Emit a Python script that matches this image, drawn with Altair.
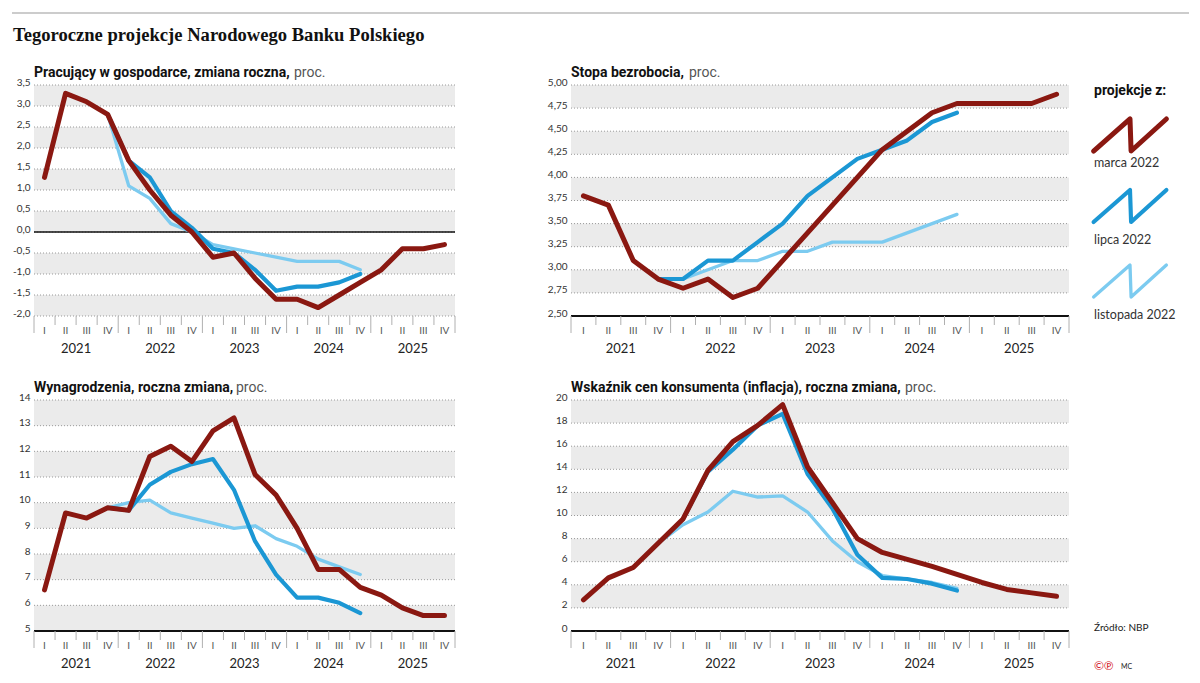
import altair as alt
import pandas as pd

N = None
QUARTER_LABELS = ["I", "II", "III", "IV"]
YEARS = ["2021", "2022", "2023", "2024", "2025"]
SERIES = ["marca 2022", "lipca 2022", "listopada 2022"]
COLORS = ["#8a1811", "#1b97d4", "#7ccbf0"]
LINE_WIDTHS = [5, 3.3, 3.3]

MAIN_TITLE = "Tegoroczne projekcje Narodowego Banku Polskiego"
LEGEND_TITLE = "projekcje z:"
SOURCE = "Źródło: NBP"

# Pracujący w gospodarce
PRAC_MAR = [1.3, 3.3, 3.1, 2.8, 1.7, 1.0, 0.4, 0.0, -0.6, -0.5, -1.1, -1.6, -1.6, -1.8, -1.5, -1.2, -0.9, -0.4, -0.4, -0.3]
PRAC_LIP = [N, N, N, 2.8, 1.7, 1.3, 0.5, 0.1, -0.4, -0.5, -0.9, -1.4, -1.3, -1.3, -1.2, -1.0, N, N, N, N]
PRAC_LIS = [N, N, N, 2.8, 1.1, 0.8, 0.2, 0.0, -0.3, -0.4, -0.5, -0.6, -0.7, -0.7, -0.7, -0.9, N, N, N, N]
PRAC_TICKS = [-2.0, -1.5, -1.0, -0.5, 0.0, 0.5, 1.0, 1.5, 2.0, 2.5, 3.0, 3.5]

# Stopa bezrobocia
BEZR_MAR = [3.8, 3.7, 3.1, 2.9, 2.8, 2.9, 2.7, 2.8, 3.1, 3.4, 3.7, 4.0, 4.3, 4.5, 4.7, 4.8, 4.8, 4.8, 4.8, 4.9]
BEZR_LIP = [N, N, N, 2.9, 2.9, 3.1, 3.1, 3.3, 3.5, 3.8, 4.0, 4.2, 4.3, 4.4, 4.6, 4.7, N, N, N, N]
BEZR_LIS = [N, N, N, 2.9, 2.9, 3.0, 3.1, 3.1, 3.2, 3.2, 3.3, 3.3, 3.3, 3.4, 3.5, 3.6, N, N, N, N]
BEZR_TICKS = [2.5, 2.75, 3.0, 3.25, 3.5, 3.75, 4.0, 4.25, 4.5, 4.75, 5.0]

# Wynagrodzenia
WYN_MAR = [6.6, 9.6, 9.4, 9.8, 9.7, 11.8, 12.2, 11.6, 12.8, 13.3, 11.1, 10.3, 9.0, 7.4, 7.4, 6.7, 6.4, 5.9, 5.6, 5.6]
WYN_LIP = [N, N, N, 9.8, 9.7, 10.7, 11.2, 11.5, 11.7, 10.5, 8.5, 7.2, 6.3, 6.3, 6.1, 5.7, N, N, N, N]
WYN_LIS = [N, N, N, 9.8, 10.0, 10.1, 9.6, 9.4, 9.2, 9.0, 9.1, 8.6, 8.3, 7.8, 7.5, 7.2, N, N, N, N]
WYN_TICKS = [5, 6, 7, 8, 9, 10, 11, 12, 13, 14]

# Inflacja CPI
CPI_MAR = [2.7, 4.6, 5.5, 7.6, 9.7, 13.9, 16.4, 17.8, 19.6, 14.2, 11.1, 8.0, 6.8, 6.2, 5.6, 4.9, 4.2, 3.6, 3.3, 3.0]
CPI_LIP = [N, N, N, N, 9.7, 13.8, 15.7, 17.8, 18.8, 13.6, 10.6, 6.6, 4.6, 4.5, 4.1, 3.5, N, N, N, N]
CPI_LIS = [N, N, N, 7.6, 9.2, 10.3, 12.1, 11.6, 11.7, 10.3, 7.8, 6.0, 4.8, 4.5, 4.2, 3.7, N, N, N, N]
CPI_TICKS = [0, 2, 4, 6, 8, 10, 12, 14, 16, 18, 20]

FONT = "Lato"
TITLE_FONT = "Roboto"
W_L, W_R, H = 421, 498, 231
ICON_PATH = "M-1,0.44 L0,-0.44 L0.03,0.44 L1,-0.44"

color_scale = alt.Scale(domain=SERIES, range=COLORS)
width_scale = alt.Scale(domain=SERIES, range=LINE_WIDTHS)


def text_layer(txt, x, y, size, weight="normal", color="#222", font=FONT, align="left", baseline="alphabetic"):
    return alt.Chart(pd.DataFrame({"t": [txt]})).mark_text(
        align=align, baseline=baseline, font=font, fontSize=size, fontWeight=weight, color=color
    ).encode(text="t:N", x=alt.value(x), y=alt.value(y))


def panel(title_bold, proc_x, series_vals, ticks, dec, width, base_at, base_w):
    ymin, ymax = ticks[0], ticks[-1]
    yscale = alt.Scale(domain=[ymin, ymax], nice=False, zero=False)
    xscale = alt.Scale(domain=[0, 20], nice=False, zero=False)
    label_expr = f"replace(replace(format(datum.value, '.{dec}f'), '.', ','), '\u2212', '-')"
    yaxis = alt.Axis(values=ticks, labelExpr=label_expr, grid=False, domain=False, ticks=False,
                     labelFontSize=10, labelColor="#333", labelPadding=4, labelBaseline="alphabetic",
                     labelFont=FONT, title=None)
    rev = ticks[::-1]
    bands = pd.DataFrame([{"y0": rev[i], "y1": rev[i + 1]} for i in range(0, len(rev) - 1, 2)])

    layers = []
    layers.append(alt.Chart(bands).mark_rect(color="#ebebeb").encode(
        y=alt.Y("y0:Q", scale=yscale, axis=yaxis), y2="y1:Q",
        x=alt.value(0), x2=alt.value(width)))
    layers.append(alt.Chart(pd.DataFrame({"y0": ticks})).mark_rule(
        color="#999999", strokeDash=[1, 2], strokeWidth=1).encode(
        y=alt.Y("y0:Q", scale=yscale, axis=yaxis), x=alt.value(0), x2=alt.value(width)))
    layers.append(alt.Chart(pd.DataFrame({"y0": [base_at]})).mark_rule(
        color="#111111", strokeWidth=base_w).encode(
        y=alt.Y("y0:Q", scale=yscale, axis=yaxis), x=alt.value(0), x2=alt.value(width)))

    edges = pd.DataFrame({"b": list(range(21))})
    edges["year"] = edges["b"] % 4 == 0
    layers.append(alt.Chart(edges).transform_filter("!datum.year").mark_rule(color="#b0b0b0").encode(
        x=alt.X("b:Q", scale=xscale, axis=None), y=alt.value(H), y2=alt.value(H + 9)))
    layers.append(alt.Chart(edges).transform_filter("datum.year").mark_rule(color="#b0b0b0").encode(
        x=alt.X("b:Q", scale=xscale, axis=None), y=alt.value(H), y2=alt.value(H + 17)))

    qdf = pd.DataFrame({"x": [i + 0.5 for i in range(20)], "q": [QUARTER_LABELS[i % 4] for i in range(20)]})
    layers.append(alt.Chart(qdf).mark_text(font=FONT, fontSize=10, color="#555", baseline="middle").encode(
        x=alt.X("x:Q", scale=xscale, axis=None), y=alt.value(H + 15), text="q:N"))
    ydf = pd.DataFrame({"x": [4 * k + 2 for k in range(5)], "yr": YEARS})
    layers.append(alt.Chart(ydf).mark_text(font=FONT, fontSize=13, color="#222", baseline="middle").encode(
        x=alt.X("x:Q", scale=xscale, axis=None), y=alt.value(H + 33), text="yr:N"))

    for idx in [2, 1, 0]:
        vals = series_vals[idx]
        rows = [{"x": i + 0.5, "y0": v, "s": SERIES[idx]} for i, v in enumerate(vals) if v is not None]
        layers.append(alt.Chart(pd.DataFrame(rows)).mark_line(strokeCap="round", strokeJoin="round").encode(
            x=alt.X("x:Q", scale=xscale, axis=None),
            y=alt.Y("y0:Q", scale=yscale, axis=yaxis),
            color=alt.Color("s:N", scale=color_scale, legend=None),
            strokeWidth=alt.StrokeWidth("s:N", scale=width_scale, legend=None)))

    layers.append(text_layer(title_bold, 0, -8, 14, "bold", "#111", font=TITLE_FONT))
    layers.append(text_layer("proc.", proc_x, -8, 14, "normal", "#555", font=TITLE_FONT))
    return layers


p1_layers = panel("Pracujący w gospodarce, zmiana roczna,", 260, [PRAC_MAR, PRAC_LIP, PRAC_LIS],
                  PRAC_TICKS, 1, W_L, 0.0, 1.6)
# main title and top rule (attached to first panel)
p1_layers.append(alt.Chart(pd.DataFrame({"t": [1]})).mark_rule(color="#cccccc", strokeWidth=2).encode(
    x=alt.value(-22), x2=alt.value(1155), y=alt.value(-72)))
p1_layers.append(text_layer(MAIN_TITLE, -21, -44, 18.6, "bold", "#111", font="Liberation Serif"))
p1 = alt.layer(*p1_layers).properties(width=W_L, height=H)

p2_layers = panel("Stopa bezrobocia,", 118, [BEZR_MAR, BEZR_LIP, BEZR_LIS],
                  BEZR_TICKS, 2, W_R, 2.5, 2)
# legend
p2_layers.append(text_layer(LEGEND_TITLE, 523, 10, 14, "bold", "#111", font=TITLE_FONT))
LEG_ICON_Y = [50, 121, 196]
LEG_TEXT_Y = [82, 159, 234]
for i, name in enumerate(SERIES):
    p2_layers.append(alt.Chart(pd.DataFrame({"s": [name]})).mark_point(
        shape=ICON_PATH, filled=False, size=5300, opacity=1, strokeCap="round", strokeJoin="round").encode(
        x=alt.value(559), y=alt.value(LEG_ICON_Y[i]),
        color=alt.Color("s:N", scale=color_scale, legend=None),
        strokeWidth=alt.StrokeWidth("s:N", scale=width_scale, legend=None)))
    p2_layers.append(text_layer(name, 523, LEG_TEXT_Y[i], 12.5, "normal", "#333"))
p2 = alt.layer(*p2_layers).properties(width=W_R, height=H)

p3_layers = panel("Wynagrodzenia, roczna zmiana,", 202, [WYN_MAR, WYN_LIP, WYN_LIS],
                  WYN_TICKS, 0, W_L, 5, 2)
p3 = alt.layer(*p3_layers).properties(width=W_L, height=H)

p4_layers = panel("Wskaźnik cen konsumenta (inflacja), roczna zmiana,", 334, [CPI_MAR, CPI_LIP, CPI_LIS],
                  CPI_TICKS, 0, W_R, 0, 2)
p4_layers.append(text_layer(SOURCE, 523, 231, 10, "normal", "#222"))
p4_layers.append(text_layer("©℗", 523, 270, 12, "normal", "#d4202a"))
p4_layers.append(text_layer("MC", 550, 269, 7, "normal", "#222"))
p4 = alt.layer(*p4_layers).properties(width=W_R, height=H)

chart = alt.concat(
    p1, p2, p3, p4, columns=2, spacing={"row": 84, "column": 116}, bounds="flush", align="each"
).properties(
    padding={"left": 3, "top": 4, "right": 0, "bottom": 0},
    background="white",
).configure_view(stroke=None)

chart.save("out.html", embed_options={"renderer": "svg", "actions": False})
